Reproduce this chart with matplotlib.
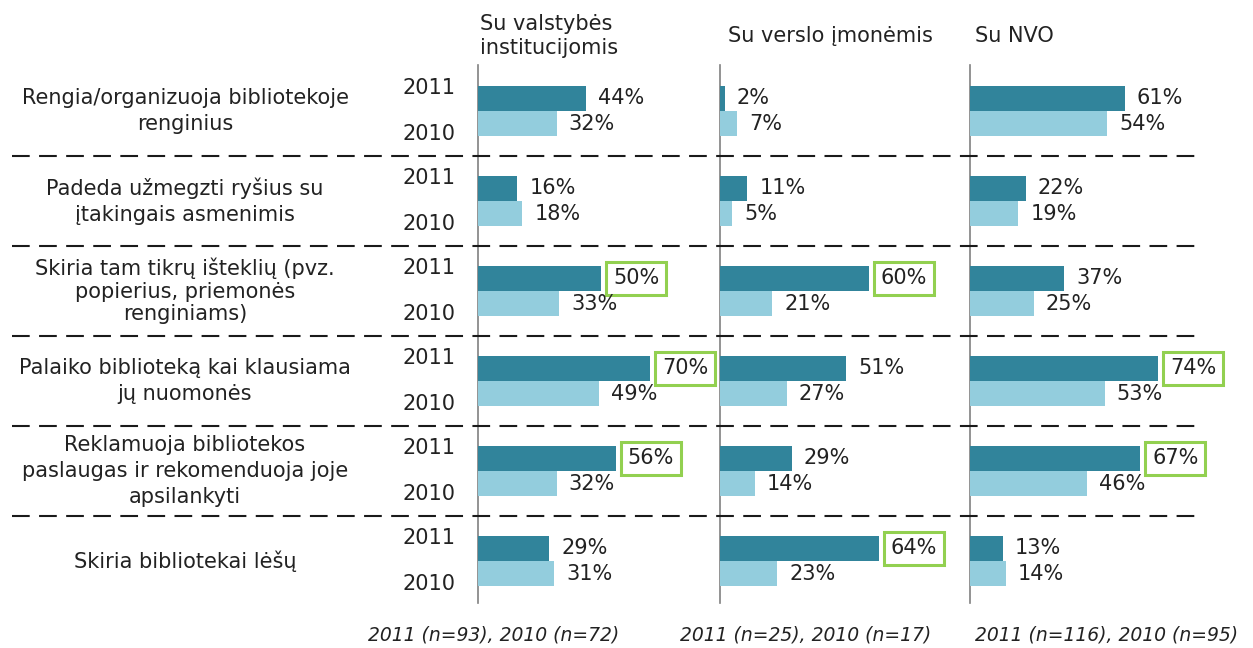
import matplotlib
matplotlib.use("Agg")
import matplotlib.pyplot as plt
from matplotlib.lines import Line2D
from matplotlib.transforms import blended_transform_factory

# ── data ───────────────────────────────────────────────────────────
rows = [
    "Rengia/organizuoja bibliotekoje\nrenginius",
    "Padeda užmegzti ryšius su\nįtakingais asmenimis",
    "Skiria tam tikrų išteklių (pvz.\npopierius, priemonės\nrenginiams)",
    "Palaiko biblioteką kai klausiama\njų nuomonės",
    "Reklamuoja bibliotekos\npaslaugas ir rekomenduoja joje\napsilankyti",
    "Skiria bibliotekai lėšų",
]
panel_titles = ["Su valstybės\ninstitucijomis", "Su verslo įmonėmis", "Su NVO"]
sample_notes = ["2011 (n=93), 2010 (n=72)",
                "2011 (n=25), 2010 (n=17)",
                "2011 (n=116), 2010 (n=95)"]

gov_2011 = [44, 16, 50, 70, 56, 29]
gov_2010 = [32, 18, 33, 49, 32, 31]
biz_2011 = [2, 11, 60, 51, 29, 64]
biz_2010 = [7, 5, 21, 27, 14, 23]
ngo_2011 = [61, 22, 37, 74, 67, 13]
ngo_2010 = [54, 19, 25, 53, 46, 14]

# 2011 values that get a green frame
gov_mark = [False, False, True, True, True, False]
biz_mark = [False, False, True, False, False, True]
ngo_mark = [False, False, False, True, True, False]

# ── style ──────────────────────────────────────────────────────────
DARK   = "#31849B"
LIGHT  = "#93CDDD"
GREEN  = "#92D050"
TXT    = "#222222"
AXGREY = "#808080"
FS     = 15

W, H = 1253, 648
plt.rcParams["font.family"] = "DejaVu Sans"
fig = plt.figure(figsize=(W / 100, H / 100), dpi=100)
fig.patch.set_facecolor("white")

def px_box(x0, y0, x1, y1):
    """pixel box (top-left origin) -> figure fraction rect"""
    return [x0 / W, 1 - y1 / H, (x1 - x0) / W, (y1 - y0) / H]

Y_TOP, Y_BOT = 65, 603
ROW_H  = 90          # px per category
FIRST  = 111         # px centre of first category
BAR_H  = 0.28
ylim = ((Y_BOT - FIRST) / ROW_H, (Y_TOP - FIRST) / ROW_H)

# (left px, right px, px per percent)
panels = [
    (478, 720, 2.46, gov_2011, gov_2010, gov_mark),
    (720, 970, 2.48, biz_2011, biz_2010, biz_mark),
    (970, 1253, 2.54, ngo_2011, ngo_2010, ngo_mark),
]

axes = []
for x0, x1, scale, v11, v10, mark in panels:
    ax = fig.add_axes(px_box(x0, Y_TOP, x1, Y_BOT))
    ax.patch.set_visible(False)
    ax.set_xlim(0, (x1 - x0) / scale)
    ax.set_ylim(*ylim)
    pos = list(range(len(rows)))
    ax.barh([p - BAR_H / 2 for p in pos], v11, height=BAR_H, color=DARK, zorder=3)
    ax.barh([p + BAR_H / 2 for p in pos], v10, height=BAR_H, color=LIGHT, zorder=3)
    off = 12 / scale
    for p, a, b, m in zip(pos, v11, v10, mark):
        kw = {}
        if m:
            kw["bbox"] = dict(boxstyle="square,pad=0.33", fc="white",
                              ec=GREEN, lw=2.2)
        ax.text(a + off, p - BAR_H / 2, f"{a}%", fontsize=FS, color=TXT,
                ha="left", va="center", zorder=4, **kw)
        ax.text(b + off, p + BAR_H / 2, f"{b}%", fontsize=FS, color=TXT,
                ha="left", va="center", zorder=4)
    for s in ["top", "right", "bottom"]:
        ax.spines[s].set_visible(False)
    ax.spines["left"].set_color(AXGREY)
    ax.spines["left"].set_linewidth(1.2)
    ax.set_xticks([])
    ax.set_yticks([])
    axes.append(ax)

ax1 = axes[0]
tr = blended_transform_factory(fig.transFigure, ax1.transData)

# dashed separators between categories, running across all panels
for i in range(len(rows) - 1):
    fig.add_artist(Line2D([12 / W, 1200 / W], [i + 0.5, i + 0.5],
                          transform=tr, color="#1a1a1a", lw=1.5,
                          dashes=(8.5, 4.5), zorder=1))

# category labels and years
for i, lab in enumerate(rows):
    spacing = 1.15 if i == 2 else 1.35
    fig.text(185 / W, i, lab, transform=tr, ha="center", va="center",
             fontsize=FS, color=TXT, linespacing=spacing)
    fig.text(456 / W, i - 0.25, "2011", transform=tr, ha="right",
             va="center", fontsize=FS, color=TXT)
    fig.text(456 / W, i + 0.25, "2010", transform=tr, ha="right",
             va="center", fontsize=FS, color=TXT)

# panel headers
title_x = [480, 728, 975]
for x, t in zip(title_x, panel_titles):
    fig.text(x / W, 1 - 36 / H, t, ha="left", va="center",
             fontsize=FS, color=TXT, linespacing=1.2)

# sample sizes
note_x = [368, 680, 975]
for x, t in zip(note_x, sample_notes):
    fig.text(x / W, 1 - 635 / H, t, ha="left", va="center",
             fontsize=13.5, style="italic", color=TXT)

fig.savefig("out.png", dpi=100)
